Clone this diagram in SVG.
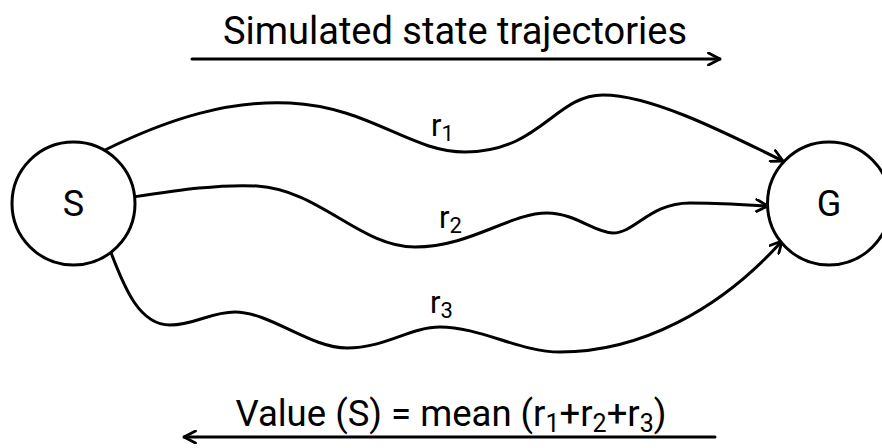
<svg xmlns="http://www.w3.org/2000/svg" width="882" height="448" viewBox="0 0 882 448">
<defs>
<style>
.t{font-family:Roboto,"Liberation Sans",sans-serif;fill:#000}
.ln{fill:none;stroke:#000;stroke-width:3;stroke-linecap:round}
.nd{fill:#fff;stroke:#000;stroke-width:3}
</style>
<marker id="ah" viewBox="0 0 14 14" refX="13" refY="7" markerWidth="14" markerHeight="14" markerUnits="userSpaceOnUse" orient="auto">
<path d="M1.5,1 L13,7 L1.5,13" fill="none" stroke="#000" stroke-width="2.8" stroke-linecap="round" stroke-linejoin="round"/>
</marker>
</defs>
<g id="title-top">
<text class="t" x="455" y="44" font-size="38" text-anchor="middle">Simulated state trajectories</text>
<line class="ln" x1="192" y1="59" x2="720" y2="59" marker-end="url(#ah)"/>
</g>
<g id="title-bottom">
<text class="t" x="451" y="426" font-size="36.5" text-anchor="middle">Value (S) = mean (r<tspan font-size="25" dy="6">1</tspan><tspan dy="-6">+r</tspan><tspan font-size="25" dy="6">2</tspan><tspan dy="-6">+r</tspan><tspan font-size="25" dy="6">3</tspan><tspan dy="-6">)</tspan></text>
<line class="ln" x1="715" y1="437" x2="184" y2="437" marker-end="url(#ah)"/>
</g>
<g id="connectors">
<path class="ln" d="M105,150 C170,118 230,100 290,103 C370,107 410,152 465,152 C540,152 555,95 603,95 C650,95 720,130 783,161" marker-end="url(#ah)"/>
<path class="ln" d="M133,197 C180,190 220,184 257,186 C320,190 360,247 415,247 C470,247 510,213 547,213 C575,213 595,233 613,233 C635,233 650,203 690,203 C720,203 745,205 768,206" marker-end="url(#ah)"/>
<path class="ln" d="M110,250 C125,290 140,325 170,325 C195,325 210,312 235,312 C270,312 310,348 347,348 C385,348 410,327 440,327 C480,327 520,352 560,352 C640,352 720,310 782,241" marker-end="url(#ah)"/>
<text class="t" x="431" y="136" font-size="31">r<tspan font-size="22" dy="5">1</tspan></text>
<text class="t" x="439" y="228" font-size="31">r<tspan font-size="22" dy="5">2</tspan></text>
<text class="t" x="430" y="313" font-size="31">r<tspan font-size="22" dy="5">3</tspan></text>
</g>
<g id="node-S">
<circle class="nd" cx="73.5" cy="203.5" r="61.5"/>
<text class="t" x="73.5" y="216" font-size="36" text-anchor="middle">S</text>
</g>
<g id="node-G">
<circle class="nd" cx="829" cy="203.5" r="61.5"/>
<text class="t" x="829" y="216" font-size="36" text-anchor="middle">G</text>
</g>
</svg>
